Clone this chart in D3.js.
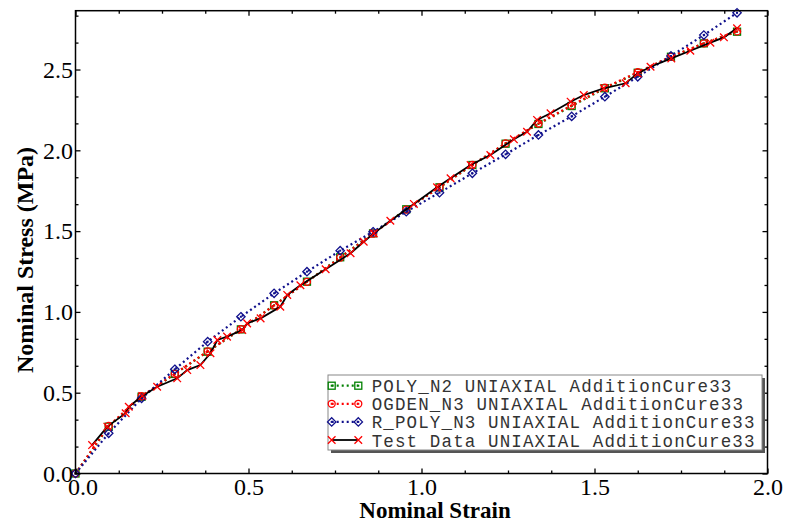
<!DOCTYPE html>
<html>
<head>
<meta charset="utf-8">
<script src="https://cdn.jsdelivr.net/npm/d3@7"></script>
<style>
  html, body { margin: 0; padding: 0; background: #fff; }
  svg { display: block; }
</style>
</head>
<body>
<svg id="chart" width="787" height="523"></svg>
<script>
// model curves are evaluated at the same strains
const modelStrain = [0, 0.096, 0.191, 0.287, 0.382, 0.478, 0.574, 0.669, 0.765, 0.86, 0.956,
  1.052, 1.147, 1.243, 1.338, 1.434, 1.53, 1.625, 1.721, 1.816, 1.912];
const polyStress = [0, 0.29, 0.475, 0.616, 0.754, 0.892, 1.041, 1.187, 1.338, 1.486, 1.635,
  1.771, 1.909, 2.041, 2.163, 2.274, 2.384, 2.48, 2.579, 2.662, 2.734];
const ogdenStress = [0, 0.295, 0.478, 0.618, 0.756, 0.893, 1.04, 1.186, 1.336, 1.484, 1.633,
  1.771, 1.91, 2.043, 2.166, 2.278, 2.388, 2.483, 2.58, 2.662, 2.736];
const rpolyStress = [0, 0.249, 0.465, 0.645, 0.816, 0.97, 1.115, 1.249, 1.379, 1.496, 1.62,
  1.738, 1.858, 1.975, 2.095, 2.21, 2.332, 2.455, 2.584, 2.713, 2.851];

const testStrain = [0.048, 0.092, 0.145, 0.154, 0.193, 0.236, 0.294, 0.323, 0.361, 0.39, 0.41,
  0.438, 0.482, 0.496, 0.535, 0.592, 0.612, 0.65, 0.723, 0.795, 0.833, 0.862, 0.91, 0.978,
  1.045, 1.084, 1.142, 1.199, 1.267, 1.305, 1.334, 1.373, 1.431, 1.469, 1.527, 1.59, 1.625,
  1.662, 1.722, 1.777, 1.835, 1.874, 1.912];
const testStress = [0.176, 0.29, 0.373, 0.413, 0.48, 0.537, 0.589, 0.64, 0.671, 0.744, 0.826,
  0.847, 0.888, 0.929, 0.96, 1.032, 1.105, 1.165, 1.264, 1.363, 1.434, 1.486, 1.564, 1.668,
  1.771, 1.827, 1.909, 1.971, 2.068, 2.115, 2.188, 2.229, 2.301, 2.342, 2.384, 2.415, 2.476,
  2.517, 2.569, 2.616, 2.666, 2.699, 2.755];

const xTicks = [0, 0.5, 1.0, 1.5, 2.0];
const yTicks = [0, 0.5, 1.0, 1.5, 2.0, 2.5];
const legendLabels = [
  "POLY_N2 UNIAXIAL AdditionCure33",
  "OGDEN_N3 UNIAXIAL AdditionCure33",
  "R_POLY_N3 UNIAXIAL AdditionCure33",
  "Test Data UNIAXIAL AdditionCure33"
];

const plot = { left: 75.5, right: 767.5, top: 10.7, bottom: 473.5 };
const svg = d3.select("#chart");

const xScale = d3.scaleLinear().domain([0, 2]).range([plot.left, plot.right]);
const yScale = d3.scaleLinear().domain([0, 2.864]).range([plot.bottom, plot.top]);

const series = [
  { label: legendLabels[0], xs: modelStrain, ys: polyStress, color: "#008000", dash: "2,3", marker: "square" },
  { label: legendLabels[1], xs: modelStrain, ys: ogdenStress, color: "#ff0000", dash: "2,3", marker: "circle" },
  { label: legendLabels[2], xs: modelStrain, ys: rpolyStress, color: "#10108c", dash: "2,3", marker: "diamond" },
  { label: legendLabels[3], xs: testStrain, ys: testStress, color: "#000000", dash: null, marker: "cross" }
];

function drawMarker(sel, type, color) {
  if (type === "square") {
    sel.append("rect").attr("x", -3.5).attr("y", -3.5).attr("width", 7).attr("height", 7)
      .attr("fill", "none").attr("stroke", color).attr("stroke-width", 1.3);
    sel.append("rect").attr("x", -1).attr("y", -1).attr("width", 2).attr("height", 2).attr("fill", color);
  } else if (type === "circle") {
    sel.append("circle").attr("r", 3.5).attr("fill", "none").attr("stroke", color).attr("stroke-width", 1.3);
    sel.append("rect").attr("x", -1).attr("y", -1).attr("width", 2).attr("height", 2).attr("fill", color);
  } else if (type === "diamond") {
    sel.append("path").attr("d", "M0,-4.2L4.2,0L0,4.2L-4.2,0Z")
      .attr("fill", "none").attr("stroke", color).attr("stroke-width", 1.3);
    sel.append("rect").attr("x", -1).attr("y", -1).attr("width", 2).attr("height", 2).attr("fill", color);
  } else {
    sel.append("path").attr("d", "M-3.8,-3.8L3.8,3.8M-3.8,3.8L3.8,-3.8")
      .attr("fill", "none").attr("stroke", "#ff0000").attr("stroke-width", 1.3);
  }
}

// curves
const line = d3.line().x((d) => xScale(d[0])).y((d) => yScale(d[1]));

series.forEach((s) => {
  const pts = s.xs.map((x, i) => [x, s.ys[i]]);
  svg.append("path")
    .datum(pts)
    .attr("d", line)
    .attr("fill", "none")
    .attr("stroke", s.color)
    .attr("stroke-width", s.dash ? 2.2 : 1.8)
    .attr("stroke-dasharray", s.dash);

  svg.append("g")
    .selectAll("g")
    .data(pts)
    .join("g")
    .attr("transform", (d) => `translate(${xScale(d[0])},${yScale(d[1])})`)
    .each(function () { drawMarker(d3.select(this), s.marker, s.color); });
});

// axes, ticks pointing inward on all four sides
function notMajor(v) { return Math.abs(v / 0.5 - Math.round(v / 0.5)) > 1e-6; }
const xMinor = d3.range(0, 2.001, 0.125).filter(notMajor);
const yMinor = d3.range(1, 18).map((k) => k / 6).filter((v) => notMajor(v) && v < 2.864);

function styleAxis(g) {
  g.select(".domain").remove();
  g.selectAll("line").attr("stroke", "#000").attr("stroke-width", 1.3);
  g.selectAll("text")
    .attr("font-family", "'Liberation Serif', 'Times New Roman', serif")
    .attr("font-size", 24)
    .attr("fill", "#000");
}

svg.append("g")
  .attr("transform", `translate(0,${plot.bottom})`)
  .call(d3.axisBottom(xScale).tickValues(xTicks).tickSize(-5).tickPadding(4.5).tickFormat(d3.format(".1f")))
  .call(styleAxis)
  .selectAll("text")
  .attr("dx", (d) => (d === 0 ? 7 : 0));
svg.append("g")
  .attr("transform", `translate(0,${plot.bottom})`)
  .call(d3.axisBottom(xScale).tickValues(xMinor).tickSize(-3).tickFormat(""))
  .call(styleAxis);
svg.append("g")
  .attr("transform", `translate(0,${plot.top})`)
  .call(d3.axisTop(xScale).tickValues(xTicks).tickSize(-5).tickFormat(""))
  .call(styleAxis);
svg.append("g")
  .attr("transform", `translate(0,${plot.top})`)
  .call(d3.axisTop(xScale).tickValues(xMinor).tickSize(-3).tickFormat(""))
  .call(styleAxis);

svg.append("g")
  .attr("transform", `translate(${plot.left},0)`)
  .call(d3.axisLeft(yScale).tickValues(yTicks).tickSize(-5).tickPadding(2.5).tickFormat(d3.format(".1f")))
  .call(styleAxis);
svg.append("g")
  .attr("transform", `translate(${plot.left},0)`)
  .call(d3.axisLeft(yScale).tickValues(yMinor).tickSize(-3).tickFormat(""))
  .call(styleAxis);
svg.append("g")
  .attr("transform", `translate(${plot.right},0)`)
  .call(d3.axisRight(yScale).tickValues(yTicks).tickSize(-5).tickFormat(""))
  .call(styleAxis);
svg.append("g")
  .attr("transform", `translate(${plot.right},0)`)
  .call(d3.axisRight(yScale).tickValues(yMinor).tickSize(-3).tickFormat(""))
  .call(styleAxis);

// frame
svg.append("rect")
  .attr("x", plot.left).attr("y", plot.top)
  .attr("width", plot.right - plot.left).attr("height", plot.bottom - plot.top)
  .attr("fill", "none").attr("stroke", "#000").attr("stroke-width", 1.5);

// axis titles
svg.append("text")
  .attr("x", 435).attr("y", 518)
  .attr("text-anchor", "middle")
  .attr("font-family", "'Liberation Serif', 'Times New Roman', serif")
  .attr("font-weight", "bold").attr("font-size", 23)
  .text("Nominal Strain");
svg.append("text")
  .attr("transform", "translate(33,260) rotate(-90)")
  .attr("text-anchor", "middle")
  .attr("font-family", "'Liberation Serif', 'Times New Roman', serif")
  .attr("font-weight", "bold").attr("font-size", 24)
  .text("Nominal Stress (MPa)");

// legend
const lg = svg.append("g");
lg.append("rect").attr("x", 331).attr("y", 378).attr("width", 434).attr("height", 75).attr("fill", "#555");
lg.append("rect").attr("x", 328).attr("y", 375).attr("width", 434).attr("height", 75)
  .attr("fill", "#fff").attr("stroke", "#888").attr("stroke-width", 1);

series.forEach((s, i) => {
  const cy = 385.7 + i * 18.1;
  lg.append("line")
    .attr("x1", 331.7).attr("x2", 358.3).attr("y1", cy).attr("y2", cy)
    .attr("stroke", s.color).attr("stroke-width", s.dash ? 2.2 : 1.8)
    .attr("stroke-dasharray", s.dash);
  [331.7, 358.3].forEach((mx) => {
    drawMarker(lg.append("g").attr("transform", `translate(${mx},${cy})`), s.marker, s.color);
  });
  lg.append("text")
    .attr("x", 371.7).attr("y", cy + 6.5)
    .attr("font-family", "'Liberation Mono', 'Courier New', monospace")
    .attr("font-size", 17.5)
    .attr("textLength", s.label.length * 11.6)
    .attr("lengthAdjust", "spacing")
    .attr("fill", "#333")
    .text(s.label);
});
</script>
</body>
</html>
